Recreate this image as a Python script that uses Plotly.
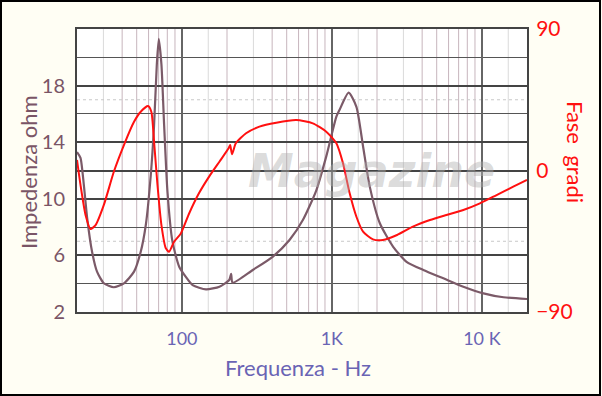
import math
import plotly.graph_objects as go

# ---- data ----
imp_freq = [20, 21.1, 22.2, 23.4, 25.2, 27.2, 30.2, 35.2, 41.1, 48, 53.2, 57.5, 62.1, 65.3, 68.1,
            70.2, 73.1, 76.2, 80.2, 86.6, 96, 106, 118, 145, 178, 207, 213, 218, 297, 403, 522,
            641, 788, 918, 1072, 1127, 1294, 1458, 1615, 1790, 2089, 2564, 3150, 4070, 5540,
            7530, 10250, 13950, 20000]
imp_ohm = [13.3, 12.9, 11.0, 8.6, 6.26, 4.85, 4.03, 3.75, 4.03, 4.85, 6.26, 8.15, 11.7, 15.2, 19.5,
           21.3, 19.5, 15.2, 10.5, 6.97, 5.2, 4.5, 3.9, 3.6, 3.79, 4.26, 4.69, 4.07, 4.97, 5.9, 7.09,
           8.5, 10.6, 13.0, 15.8, 16.3, 17.5, 16.5, 13.7, 10.86, 8.27, 6.61, 5.55, 4.97, 4.38,
           3.79, 3.32, 3.04, 2.92]

ph_freq = [20, 21.1, 22.8, 24.6, 26.6, 30.2, 35.2, 41.1, 48, 53.2, 59.5, 62.6, 65.3, 68.8, 73.1,
           78.2, 82.2, 88.8, 98.5, 112, 130, 152, 178, 205, 210, 216, 229, 268, 329, 426, 579,
           747, 918, 1072, 1187, 1315, 1458, 1615, 1880, 2190, 2720, 3470, 4510, 5800, 7530,
           9710, 12540, 16200, 20000]
ph_deg = [6.7, -9.2, -28.3, -37.2, -34.7, -21.9, -0.8, 16.2, 31.0, 37.4, 41.0, 37.4, 18.3, -9.2, -34.7,
          -49.5, -51.7, -45.3, -40.0, -27.2, -14.5, -3.9, 5.6, 14.1, 16.2, 10.3, 17.3, 23.7, 27.9, 30.4,
          32.1, 30.0, 24.7, 17.3, 4.6, -14.5, -29.4, -38.9, -43.8, -44.2, -41.0, -35.7, -31.5, -28.3,
          -25.1, -20.9, -15.6, -10.3, -6.0]

x_tickvals = [100, 1000, 10000]
x_ticktext = ["100", "1K", "10 K"]
y_tickvals = [2, 6, 10, 14, 18]
y2_tickvals = [-90, 0, 90]

FONT = "Comic Sans MS, Lato, sans-serif"
MAUVE = "#7a5566"
BLUE = "#6a64b4"
RED = "#ff1010"

fig = go.Figure()
fig.add_trace(go.Scatter(x=imp_freq, y=imp_ohm, mode="lines", name="Impedenza",
                         line=dict(color="#7b5a68", width=2.2, shape="spline", smoothing=0.6),
                         yaxis="y"))
fig.add_trace(go.Scatter(x=ph_freq, y=ph_deg, mode="lines", name="Fase",
                         line=dict(color=RED, width=2, shape="spline", smoothing=0.6),
                         yaxis="y2"))

shapes = []
# minor vertical grid lines
for dec in [10, 100, 1000, 10000]:
    for m in [1.5, 2, 3, 4, 5, 6, 7, 8, 9]:
        f = dec * m
        if f <= 20 or f >= 20000:
            continue
        col = "#dadada" if m in (1.5, 3) else "#c7b5bd"
        shapes.append(dict(type="line", xref="x", yref="paper", x0=f, x1=f, y0=0, y1=1,
                           line=dict(color=col, width=1), layer="below"))
# dotted +/-45 degree lines
for v in [45, -45]:
    shapes.append(dict(type="line", xref="paper", yref="y2", x0=0, x1=1, y0=v, y1=v,
                       line=dict(color="#c8c8c8", width=1, dash="dot"), layer="below"))
# outer frame
shapes.append(dict(type="rect", xref="paper", yref="paper",
                   x0=(1 - 77) / 450, x1=(600 - 77) / 450,
                   y0=(312 - 395) / 283, y1=(312 - 1) / 283,
                   line=dict(color="black", width=2)))

fig.update_layout(
    width=602, height=396,
    margin=dict(l=77, r=75, t=29, b=84),
    paper_bgcolor="#fffef4",
    plot_bgcolor="white",
    showlegend=False,
    shapes=shapes,
    xaxis=dict(type="log", range=[math.log10(20), math.log10(20000)],
               tickvals=x_tickvals, ticktext=x_ticktext,
               tickfont=dict(family=FONT, size=18, color=BLUE),
               ticks="outside", ticklen=9, tickcolor="rgba(0,0,0,0)",
               showgrid=True, gridcolor="#666666", gridwidth=2,
               showline=True, linecolor="#444444", linewidth=2, mirror=True,
               zeroline=False),
    yaxis=dict(range=[2, 22], tickvals=y_tickvals,
               tickfont=dict(family=FONT, size=20, color=MAUVE),
               ticks="outside", ticklen=6, tickcolor="rgba(0,0,0,0)",
               showgrid=True, gridcolor="#444444", gridwidth=2,
               minor=dict(dtick=2, tick0=0, showgrid=True, gridcolor="#555555", gridwidth=1),
               showline=True, linecolor="#444444", linewidth=2, mirror=True,
               zeroline=False),
    yaxis2=dict(range=[-90, 90], tickvals=y2_tickvals, overlaying="y", side="right",
                tickfont=dict(family=FONT, size=21, color=RED),
                ticks="outside", ticklen=4, tickcolor="rgba(0,0,0,0)",
                showgrid=True, gridcolor="#444444", gridwidth=2,
                zeroline=False, showline=False),
    annotations=[
        dict(text="<b><i>Magazine</i></b>", xref="paper", yref="paper", x=0.655, y=0.50,
             showarrow=False,
             font=dict(family="DejaVu Sans", size=46, color="rgba(175,175,175,0.45)"),
             xanchor="center", yanchor="middle"),
        dict(text="Impedenza ohm", xref="paper", yref="paper",
             x=(28 - 77) / 450, y=(312 - 172) / 283, showarrow=False, textangle=-90,
             font=dict(family=FONT, size=22, color=MAUVE), xanchor="center", yanchor="middle"),
        dict(text="Frequenza - Hz", xref="paper", yref="paper",
             x=(298 - 77) / 450, y=(312 - 367) / 283, showarrow=False,
             font=dict(family=FONT, size=22, color=BLUE), xanchor="center", yanchor="middle"),
        dict(text="Fase  gradi", xref="paper", yref="paper",
             x=(576 - 77) / 450, y=(312 - 152) / 283, showarrow=False, textangle=90,
             font=dict(family=FONT, size=22, color=RED), xanchor="center", yanchor="middle"),
    ],
)

fig.write_html("out.html", config={"displayModeBar": False},
               post_script="document.body.style.margin='0';document.body.style.padding='0';")
